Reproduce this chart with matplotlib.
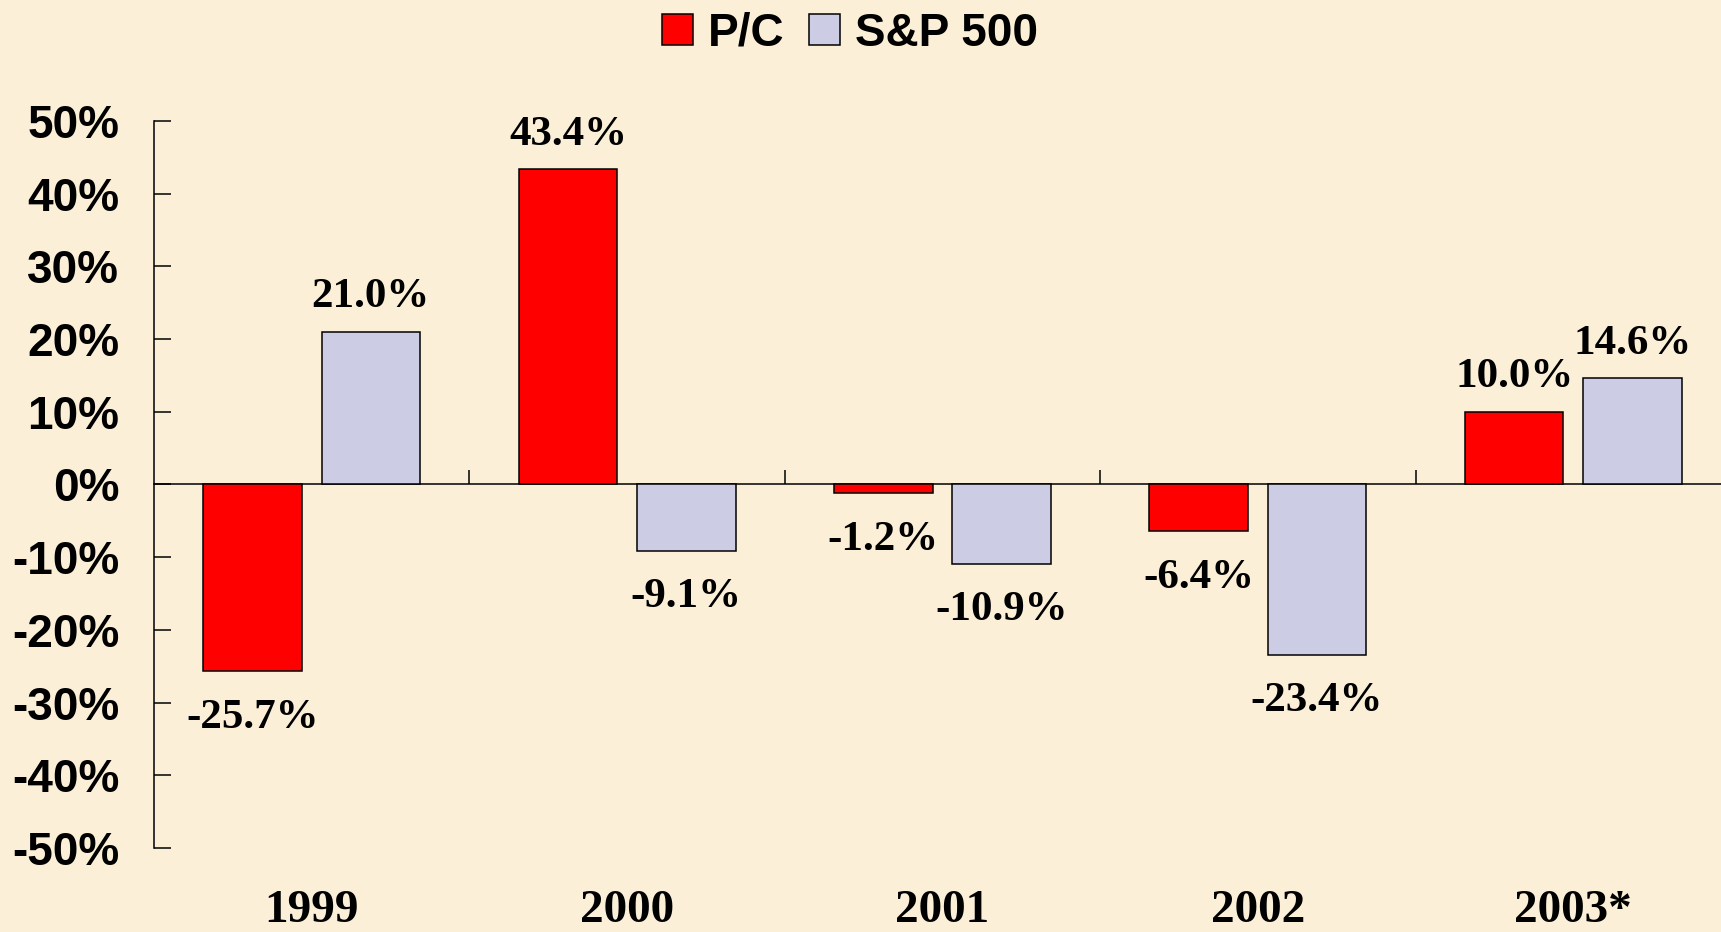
import matplotlib
matplotlib.use('Agg')
import matplotlib.pyplot as plt
import matplotlib.transforms as mtransforms
from matplotlib.patches import Patch
import numpy as np

BG       = '#FBF0D7'
RED      = '#FF0000'
LAVENDER = '#CCCCE4'

years   = ['1999', '2000', '2001', '2002', '2003*']
pc      = [-25.7, 43.4, -1.2, -6.4, 10.0]
sp500   = [21.0, -9.1, -10.9, -23.4, 14.6]
yticks  = [-50, -40, -30, -20, -10, 0, 10, 20, 30, 40, 50]

SANS  = 'Liberation Sans'
SERIF = 'Liberation Serif'

fig = plt.figure(figsize=(17.21, 9.32), dpi=100, facecolor=BG)
# axis runs slightly past the right edge, as in the original slide
ax = fig.add_axes([154 / 1721, 84 / 932, 1577 / 1721, 727 / 932])
ax.set_facecolor('none')

x = np.arange(len(years))
w = 0.3127
off = 0.1875
bars_pc = ax.bar(x - off, pc, w, color=RED, edgecolor='black', linewidth=1.1, zorder=3)
bars_sp = ax.bar(x + off, sp500, w, color=LAVENDER, edgecolor='black', linewidth=1.1, zorder=3)

for bars, vals in [(bars_pc, pc), (bars_sp, sp500)]:
    for b, v in zip(bars, vals):
        dy = 17.6 if v >= 0 else -40.8
        ax.annotate(f'{v:.1f}%', (b.get_x() + b.get_width() / 2, v),
                    xytext=(0, dy), textcoords='offset points',
                    ha='center', va='baseline', fontsize=31,
                    family=SERIF, fontweight='bold', color='black')

ax.set_xlim(-0.5, len(years) - 0.5)
ax.set_ylim(-50, 50)

for s in ['top', 'right']:
    ax.spines[s].set_visible(False)
ax.spines['left'].set_linewidth(1.1)
ax.spines['bottom'].set_position(('data', 0))
ax.spines['bottom'].set_linewidth(1.1)

ax.set_yticks(yticks)
ax.set_yticklabels([f'{t}%' for t in yticks], fontsize=33,
                   family=SANS, fontweight='bold')
ax.tick_params(axis='y', direction='in', length=12, width=1.1, pad=25)

ax.set_xticks(x[:-1] + 0.5)
ax.set_xticklabels([])
ax.tick_params(axis='x', direction='in', length=10, width=1.1)

# year labels sit at the very bottom of the slide
trans = mtransforms.blended_transform_factory(ax.transData, fig.transFigure)
for xi, yr in zip(x, years):
    ax.text(xi, 1 - 922 / 932, yr, transform=trans, ha='center', va='baseline',
            fontsize=34, family=SERIF, fontweight='bold', clip_on=False)

handles = [Patch(facecolor=RED, edgecolor='black', linewidth=1.1, label='P/C'),
           Patch(facecolor=LAVENDER, edgecolor='black', linewidth=1.1, label='S&P 500')]
fig.legend(handles=handles, loc='center', bbox_to_anchor=(850 / 1721, 1 - 34 / 932),
           ncol=2, frameon=False, handlelength=0.66, handleheight=0.66,
           handletextpad=0.33, columnspacing=0.55, borderaxespad=0,
           prop={'family': SANS, 'weight': 'bold', 'size': 33})

fig.savefig('out.png', dpi=100, facecolor=BG)
